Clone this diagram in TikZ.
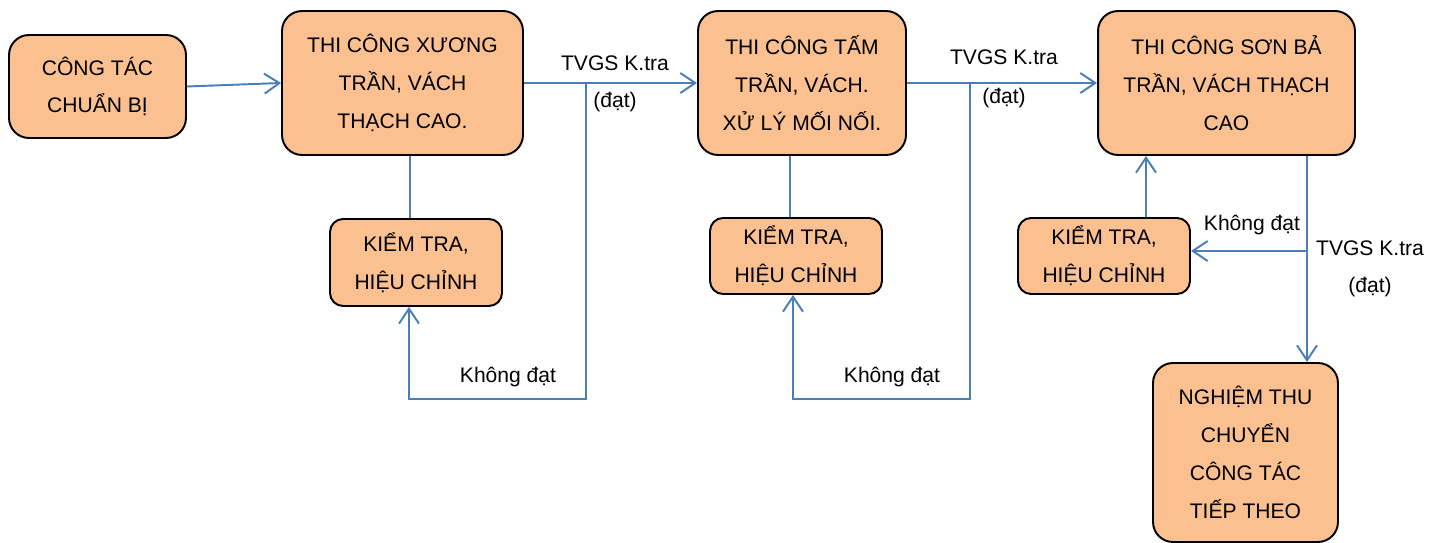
\documentclass[tikz,border=0pt]{standalone}
\usepackage{fontspec}
\setmainfont{Liberation Sans}
\usetikzlibrary{arrows.meta,calc}
\definecolor{boxfill}{HTML}{FAC090}
\definecolor{linkblue}{HTML}{4A7EBB}
\tikzset{
  box/.style={draw=black, line width=1.1pt, fill=boxfill, rounded corners=0.4cm,
    align=center, inner sep=0pt, font=\fontsize{12}{21.5}\selectfont},
  smallbox/.style={box, rounded corners=0.26cm, minimum width=3.44cm, minimum height=1.52cm},
  lbl/.style={inner sep=0pt, font=\fontsize{12}{14}\selectfont},
  link/.style={draw=linkblue, line width=1.1pt},
  arr/.style={link, -{Straight Barb[length=0.3cm,width=0.4cm]}}
}
\begin{document}
\begin{tikzpicture}[x=0.02cm, y=-0.02cm]
      \useasboundingbox (0,0) rectangle (1431,543);

      \node[box, minimum width=3.54cm, minimum height=2.06cm] (CB) at (97.5,86.5) {CÔNG TÁC\\CHUẨN BỊ};
      \node[box, minimum width=4.82cm, minimum height=2.88cm] (XUONG) at (402.5,83) {THI CÔNG XƯƠNG\\TRẦN, VÁCH\\THẠCH CAO.};
      \node[box, minimum width=4.16cm, minimum height=2.88cm] (TAM) at (802,83) {THI CÔNG TẤM\\TRẦN, VÁCH.\\XỬ LÝ MỐI NỐI.};
      \node[box, minimum width=5.14cm, minimum height=2.88cm] (SON) at (1226.5,83) {THI CÔNG SƠN BẢ\\TRẦN, VÁCH THẠCH\\CAO};
      \node[smallbox, minimum height=1.74cm] (KT1) at (416,262.5) {KIỂM TRA,\\HIỆU CHỈNH};
      \node[smallbox] (KT2) at (796,256) {KIỂM TRA,\\HIỆU CHỈNH};
      \node[smallbox] (KT3) at (1104,256) {KIỂM TRA,\\HIỆU CHỈNH};
      \node[box, minimum width=3.7cm, minimum height=3.58cm] (NT) at (1245.5,452.5) {NGHIỆM THU\\CHUYỂN\\CÔNG TÁC\\TIẾP THEO};

      \coordinate (J1) at (586,83);
      \coordinate (B1) at (586,399);
      \coordinate (J2) at (970,83);
      \coordinate (B2) at (970,399);
      \coordinate (J3) at (1307,251);

      \draw[arr] (CB.east) -- (XUONG.west);
      \draw[arr] (XUONG.east) -- (TAM.west);
      \draw[arr] (TAM.east) -- (SON.west);

      \draw[link] ([xshift=-0.12cm]KT1.north) -- ([xshift=-0.12cm]KT1.north |- XUONG.south);
      \draw[arr] (J1) -- (B1) -| ([xshift=-0.14cm]KT1.south);
      \draw[link] ([xshift=-0.12cm]KT2.north) -- ([xshift=-0.12cm]KT2.north |- TAM.south);
      \draw[arr] (J2) -- (B2) -| ([xshift=-0.06cm]KT2.south);

      \draw[arr] ([xshift=0.84cm]KT3.north) -- ([xshift=0.84cm]KT3.north |- SON.south);
      \draw[arr] (J3 |- SON.south) -- (J3 |- NT.north);
      \draw[arr] (J3) -- (J3 -| KT3.east);

      \node[lbl] (L1) at (615,63) {TVGS K.tra};
      \node[lbl] (D1) at (615,102) {(đạt)};
      \node[lbl] (L2) at (1004,57) {TVGS K.tra};
      \node[lbl] (D2) at (1004,98) {(đạt)};
      \node[lbl] (L3) at (1370,248) {TVGS K.tra};
      \node[lbl] (D3) at (1370,287) {(đạt)};
      \node[lbl] (K1) at (508,377) {Không đạt};
      \node[lbl] (K2) at (892,377) {Không đạt};
      \node[lbl] (K3) at (1252,225) {Không đạt};
    \end{tikzpicture}
\end{document}
